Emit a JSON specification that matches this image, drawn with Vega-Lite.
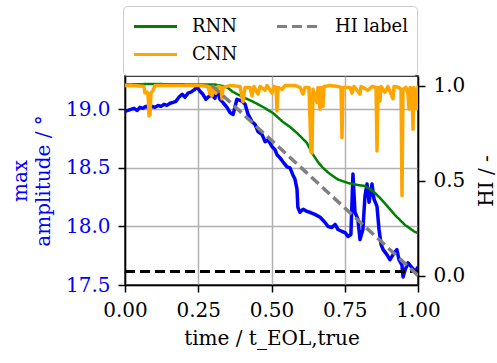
{
  "$schema": "https://vega.github.io/schema/vega-lite/v6.json",
  "width": 293,
  "height": 209,
  "autosize": {"type": "none"},
  "padding": {"left": 125, "top": 76, "right": 79, "bottom": 78},
  "datasets": {
    "amp": [
      {"t":0,"amp":18.983},{"t":0.010,"amp":18.991},{"t":0.020,"amp":19.000},{"t":0.031,"amp":19.009},{"t":0.041,"amp":18.991},{"t":0.051,"amp":19.017},{"t":0.061,"amp":19.009},{"t":0.072,"amp":19.026},{"t":0.082,"amp":19.009},{"t":0.092,"amp":19.026},{"t":0.102,"amp":19.017},{"t":0.113,"amp":19.034},{"t":0.123,"amp":19.026},{"t":0.133,"amp":19.043},{"t":0.143,"amp":19.034},{"t":0.154,"amp":19.052},{"t":0.164,"amp":19.060},{"t":0.174,"amp":19.069},{"t":0.184,"amp":19.103},{"t":0.195,"amp":19.129},{"t":0.205,"amp":19.103},{"t":0.215,"amp":19.138},{"t":0.225,"amp":19.147},{"t":0.235,"amp":19.164},{"t":0.246,"amp":19.190},{"t":0.256,"amp":19.155},{"t":0.266,"amp":19.129},{"t":0.276,"amp":19.086},{"t":0.287,"amp":19.112},{"t":0.297,"amp":19.121},{"t":0.307,"amp":19.095},{"t":0.314,"amp":19.172},{"t":0.324,"amp":19.086},{"t":0.334,"amp":19.060},{"t":0.348,"amp":19.017},{"t":0.358,"amp":18.974},{"t":0.369,"amp":18.957},{"t":0.382,"amp":19.086},{"t":0.392,"amp":19.078},{"t":0.399,"amp":19.069},{"t":0.410,"amp":19.043},{"t":0.420,"amp":18.957},{"t":0.433,"amp":18.897},{"t":0.444,"amp":18.871},{"t":0.454,"amp":18.810},{"t":0.468,"amp":18.784},{"t":0.478,"amp":18.724},{"t":0.488,"amp":18.741},{"t":0.502,"amp":18.681},{"t":0.512,"amp":18.655},{"t":0.519,"amp":18.612},{"t":0.529,"amp":18.586},{"t":0.539,"amp":18.552},{"t":0.553,"amp":18.509},{"t":0.563,"amp":18.500},{"t":0.573,"amp":18.440},{"t":0.580,"amp":18.405},{"t":0.587,"amp":18.319},{"t":0.590,"amp":18.164},{"t":0.597,"amp":18.121},{"t":0.608,"amp":18.147},{"t":0.621,"amp":18.129},{"t":0.631,"amp":18.121},{"t":0.648,"amp":18.103},{"t":0.666,"amp":18.078},{"t":0.683,"amp":18.034},{"t":0.693,"amp":18.000},{"t":0.706,"amp":17.991},{"t":0.717,"amp":18.017},{"t":0.727,"amp":17.974},{"t":0.741,"amp":17.957},{"t":0.751,"amp":17.948},{"t":0.761,"amp":17.914},{"t":0.771,"amp":17.931},{"t":0.778,"amp":18.448},{"t":0.785,"amp":18.121},{"t":0.795,"amp":18.060},{"t":0.802,"amp":17.888},{"t":0.812,"amp":17.974},{"t":0.819,"amp":18.259},{"t":0.826,"amp":18.362},{"t":0.833,"amp":18.207},{"t":0.843,"amp":18.362},{"t":0.850,"amp":18.233},{"t":0.860,"amp":18.172},{"t":0.867,"amp":17.974},{"t":0.874,"amp":17.845},{"t":0.881,"amp":17.802},{"t":0.894,"amp":17.759},{"t":0.904,"amp":17.716},{"t":0.915,"amp":17.759},{"t":0.928,"amp":17.802},{"t":0.935,"amp":17.716},{"t":0.945,"amp":17.672},{"t":0.949,"amp":17.569},{"t":0.956,"amp":17.629},{"t":0.966,"amp":17.690},{"t":0.980,"amp":17.647},{"t":0.990,"amp":17.612},{"t":1.000,"amp":17.655}
    ],
    "thr": [{"t":0,"amp":17.615},{"t":1,"amp":17.615}],
    "rnn": [
      {"t":0,"hi":1.005,"model":"RNN"},{"t":0.0853,"hi":1.008,"model":"RNN"},{"t":0.256,"hi":1.005,"model":"RNN"},{"t":0.3072,"hi":1.005,"model":"RNN"},{"t":0.3345,"hi":0.997,"model":"RNN"},{"t":0.3515,"hi":0.987,"model":"RNN"},{"t":0.3686,"hi":0.966,"model":"RNN"},{"t":0.4027,"hi":0.939,"model":"RNN"},{"t":0.4369,"hi":0.915,"model":"RNN"},{"t":0.4710,"hi":0.887,"model":"RNN"},{"t":0.5051,"hi":0.855,"model":"RNN"},{"t":0.5392,"hi":0.808,"model":"RNN"},{"t":0.5631,"hi":0.782,"model":"RNN"},{"t":0.5870,"hi":0.75,"model":"RNN"},{"t":0.6041,"hi":0.724,"model":"RNN"},{"t":0.6212,"hi":0.697,"model":"RNN"},{"t":0.6382,"hi":0.645,"model":"RNN"},{"t":0.6587,"hi":0.597,"model":"RNN"},{"t":0.6758,"hi":0.566,"model":"RNN"},{"t":0.6997,"hi":0.534,"model":"RNN"},{"t":0.7270,"hi":0.505,"model":"RNN"},{"t":0.7611,"hi":0.487,"model":"RNN"},{"t":0.7952,"hi":0.476,"model":"RNN"},{"t":0.8191,"hi":0.471,"model":"RNN"},{"t":0.8362,"hi":0.455,"model":"RNN"},{"t":0.8532,"hi":0.434,"model":"RNN"},{"t":0.8703,"hi":0.408,"model":"RNN"},{"t":0.8874,"hi":0.379,"model":"RNN"},{"t":0.9215,"hi":0.318,"model":"RNN"},{"t":0.9556,"hi":0.266,"model":"RNN"},{"t":0.9898,"hi":0.229,"model":"RNN"},{"t":1.0,"hi":0.224,"model":"RNN"}
    ],
    "cnn": [
      {"t":0,"hi":1.0,"model":"CNN"},{"t":0.0341,"hi":1.0,"model":"CNN"},{"t":0.0648,"hi":0.995,"model":"CNN"},{"t":0.0683,"hi":0.96,"model":"CNN"},{"t":0.0751,"hi":0.965,"model":"CNN"},{"t":0.0785,"hi":0.96,"model":"CNN"},{"t":0.0819,"hi":0.84,"model":"CNN"},{"t":0.0853,"hi":0.845,"model":"CNN"},{"t":0.0887,"hi":0.96,"model":"CNN"},{"t":0.0956,"hi":0.975,"model":"CNN"},{"t":0.1024,"hi":1.0,"model":"CNN"},{"t":0.1536,"hi":1.0,"model":"CNN"},{"t":0.2048,"hi":1.0,"model":"CNN"},{"t":0.2560,"hi":1.0,"model":"CNN"},{"t":0.2833,"hi":0.995,"model":"CNN"},{"t":0.2901,"hi":0.955,"model":"CNN"},{"t":0.2935,"hi":0.99,"model":"CNN"},{"t":0.2969,"hi":0.945,"model":"CNN"},{"t":0.3038,"hi":0.99,"model":"CNN"},{"t":0.3106,"hi":0.96,"model":"CNN"},{"t":0.3174,"hi":0.995,"model":"CNN"},{"t":0.3276,"hi":0.99,"model":"CNN"},{"t":0.3311,"hi":0.93,"model":"CNN"},{"t":0.3345,"hi":0.99,"model":"CNN"},{"t":0.3584,"hi":1.0,"model":"CNN"},{"t":0.3925,"hi":0.995,"model":"CNN"},{"t":0.4027,"hi":0.915,"model":"CNN"},{"t":0.4096,"hi":0.99,"model":"CNN"},{"t":0.4266,"hi":0.99,"model":"CNN"},{"t":0.4334,"hi":0.945,"model":"CNN"},{"t":0.4403,"hi":0.995,"model":"CNN"},{"t":0.4539,"hi":0.955,"model":"CNN"},{"t":0.4608,"hi":0.995,"model":"CNN"},{"t":0.4778,"hi":0.975,"model":"CNN"},{"t":0.4846,"hi":1.0,"model":"CNN"},{"t":0.5017,"hi":0.96,"model":"CNN"},{"t":0.5085,"hi":0.995,"model":"CNN"},{"t":0.5154,"hi":0.99,"model":"CNN"},{"t":0.5188,"hi":0.866,"model":"CNN"},{"t":0.5222,"hi":0.99,"model":"CNN"},{"t":0.5358,"hi":0.98,"model":"CNN"},{"t":0.5461,"hi":1.0,"model":"CNN"},{"t":0.5802,"hi":1.0,"model":"CNN"},{"t":0.5973,"hi":0.99,"model":"CNN"},{"t":0.6075,"hi":0.955,"model":"CNN"},{"t":0.6143,"hi":0.99,"model":"CNN"},{"t":0.6280,"hi":0.99,"model":"CNN"},{"t":0.6348,"hi":0.65,"model":"CNN"},{"t":0.6382,"hi":0.645,"model":"CNN"},{"t":0.6416,"hi":0.98,"model":"CNN"},{"t":0.6553,"hi":0.91,"model":"CNN"},{"t":0.6587,"hi":0.99,"model":"CNN"},{"t":0.6655,"hi":0.876,"model":"CNN"},{"t":0.6689,"hi":0.99,"model":"CNN"},{"t":0.6758,"hi":0.89,"model":"CNN"},{"t":0.6792,"hi":0.995,"model":"CNN"},{"t":0.6997,"hi":1.0,"model":"CNN"},{"t":0.7270,"hi":0.995,"model":"CNN"},{"t":0.7372,"hi":0.99,"model":"CNN"},{"t":0.7406,"hi":0.725,"model":"CNN"},{"t":0.7440,"hi":0.99,"model":"CNN"},{"t":0.7679,"hi":0.99,"model":"CNN"},{"t":0.7747,"hi":0.96,"model":"CNN"},{"t":0.7816,"hi":0.995,"model":"CNN"},{"t":0.8020,"hi":0.955,"model":"CNN"},{"t":0.8055,"hi":0.995,"model":"CNN"},{"t":0.8294,"hi":0.975,"model":"CNN"},{"t":0.8430,"hi":0.995,"model":"CNN"},{"t":0.8567,"hi":0.99,"model":"CNN"},{"t":0.8601,"hi":0.655,"model":"CNN"},{"t":0.8635,"hi":0.99,"model":"CNN"},{"t":0.8703,"hi":0.918,"model":"CNN"},{"t":0.8737,"hi":0.995,"model":"CNN"},{"t":0.8874,"hi":0.965,"model":"CNN"},{"t":0.8976,"hi":0.995,"model":"CNN"},{"t":0.9147,"hi":0.93,"model":"CNN"},{"t":0.9181,"hi":0.995,"model":"CNN"},{"t":0.9352,"hi":0.99,"model":"CNN"},{"t":0.9420,"hi":0.98,"model":"CNN"},{"t":0.9454,"hi":0.42,"model":"CNN"},{"t":0.9488,"hi":0.98,"model":"CNN"},{"t":0.9590,"hi":0.99,"model":"CNN"},{"t":0.9659,"hi":0.955,"model":"CNN"},{"t":0.9693,"hi":0.876,"model":"CNN"},{"t":0.9727,"hi":0.99,"model":"CNN"},{"t":0.9795,"hi":0.985,"model":"CNN"},{"t":0.9829,"hi":0.77,"model":"CNN"},{"t":0.9863,"hi":0.99,"model":"CNN"},{"t":0.9966,"hi":0.88,"model":"CNN"},{"t":1.0,"hi":1.0,"model":"CNN"}
    ],
    "label": [
      {"t":0.297,"hi":1.0,"model":"HI label"},{"t":1.0,"hi":0.0,"model":"HI label"}
    ]
  },
  "config": {
    "font": "DejaVu Serif",
    "view": {"stroke": "black", "strokeWidth": 1.5},
    "axis": {
      "labelFont": "DejaVu Serif", "titleFont": "DejaVu Serif",
      "labelFontSize": 20, "titleFontSize": 20, "titleFontWeight": "normal", "labelFontWeight": "normal",
      "labelColor": "black", "titleColor": "black",
      "domainColor": "black", "domainWidth": 1.5,
      "tickColor": "black", "tickWidth": 1.5, "tickSize": 7,
      "labelPadding": 8, "gridColor": "#b0b0b0", "gridWidth": 1.5, "gridOpacity": 1,
      "labelFlush": false, "labelOverlap": false,
      "encode": {"labels": {"update": {"font": {"value": "DejaVu Serif"}, "fontSize": {"value": 20}}}}
    },
    "legend": {"labelFont": "DejaVu Serif", "labelFontWeight": "normal"}
  },
  "encoding": {
    "x": {
      "field": "t", "type": "quantitative",
      "scale": {"domain": [0, 1], "nice": false},
      "axis": {"values": [0, 0.25, 0.5, 0.75, 1.0], "format": ".2f", "grid": true, "titlePadding": 8,
               "encode": {"labels": {"update": {"font": {"value": "DejaVu Serif"}, "fontSize": {"value": 20}}}}},
      "title": "time / t_EOL,true"
    }
  },
  "layer": [
    {
      "encoding": {
        "y": {
          "field": "amp", "type": "quantitative",
          "scale": {"domain": [17.5, 19.285], "nice": false, "zero": false},
          "axis": {"orient": "left", "values": [17.5, 18.0, 18.5, 19.0], "format": ".1f", "grid": true,
                   "labelColor": "#0000ff", "titleColor": "#0000ff", "titlePadding": 12, "titleLineHeight": 23,
                   "encode": {"labels": {"update": {"font": {"value": "DejaVu Serif"}, "fontSize": {"value": 20}}}}},
          "title": ["max", "amplitude / °"]
        }
      },
      "layer": [
        {"data": {"name": "amp"}, "mark": {"type": "line", "color": "#0000ff", "strokeWidth": 3.5, "strokeJoin": "round", "clip": true}},
        {"data": {"name": "thr"}, "mark": {"type": "line", "color": "black", "strokeWidth": 3, "strokeDash": [10, 5], "clip": true}}
      ]
    },
    {
      "encoding": {
        "y": {
          "field": "hi", "type": "quantitative",
          "scale": {"domain": [-0.05, 1.05], "nice": false, "zero": false},
          "axis": {"orient": "right", "values": [0, 0.5, 1.0], "format": ".1f", "grid": false,
                   "titleAngle": 270, "titleBaseline": "top", "titlePadding": 12,
                   "encode": {"labels": {"update": {"font": {"value": "DejaVu Serif"}, "fontSize": {"value": 20}}}}},
          "title": "HI / -"
        },
        "color": {
          "field": "model", "type": "nominal", "sort": ["RNN", "CNN", "HI label"],
          "scale": {"domain": ["RNN", "CNN", "HI label"], "range": ["#008000", "#ffa500", "#808080"]},
          "legend": {"title": null, "orient": "none", "legendX": -2, "legendY": -70, "columns": 2, "columnPadding": 37, "rowPadding": 5, "padding": 9, "strokeColor": "#cccccc", "cornerRadius": 4, "fillColor": "white", "symbolType": "stroke", "symbolSize": 1850, "symbolStrokeWidth": 3, "labelFont": "DejaVu Serif", "labelFontSize": 18, "labelOffset": 13, "clipHeight": 23, "labelColor": "black",
                     "encode": {"labels": {"update": {"font": {"value": "DejaVu Serif"}, "fontSize": {"value": 18}}}}}
        },
        "strokeDash": {
          "field": "model", "type": "nominal", "sort": ["RNN", "CNN", "HI label"],
          "scale": {"domain": ["RNN", "CNN", "HI label"], "range": [[1, 0], [1, 0], [10, 5]]},
          "legend": {"title": null, "orient": "none", "legendX": -2, "legendY": -70, "columns": 2, "columnPadding": 37, "rowPadding": 5, "padding": 9, "strokeColor": "#cccccc", "cornerRadius": 4, "fillColor": "white", "symbolType": "stroke", "symbolSize": 1850, "symbolStrokeWidth": 3, "labelFont": "DejaVu Serif", "labelFontSize": 18, "labelOffset": 13, "clipHeight": 23, "labelColor": "black",
                     "encode": {"labels": {"update": {"font": {"value": "DejaVu Serif"}, "fontSize": {"value": 18}}}}}
        }
      },
      "layer": [
        {"data": {"name": "rnn"}, "mark": {"type": "line", "strokeWidth": 2.5, "clip": true}},
        {"data": {"name": "cnn"}, "mark": {"type": "line", "strokeWidth": 3.5, "strokeJoin": "round", "clip": true}},
        {"data": {"name": "label"}, "mark": {"type": "line", "strokeWidth": 3.5, "strokeCap": "butt", "clip": true}}
      ]
    }
  ],
  "resolve": {"scale": {"y": "independent"}}
}
